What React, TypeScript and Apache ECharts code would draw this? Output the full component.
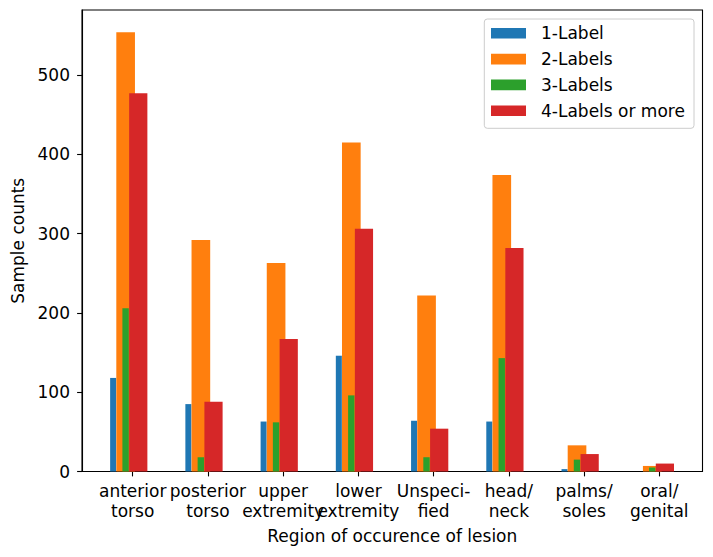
import React, { useEffect, useRef } from "react";
import * as echarts from "echarts";

const categories = [
  "anterior\ntorso",
  "posterior\ntorso",
  "upper\nextremity",
  "lower\nextremity",
  "Unspeci-\nfied",
  "head/\nneck",
  "palms/\nsoles",
  "oral/\ngenital",
];

const seriesNames = ["1-Label", "2-Labels", "3-Labels", "4-Labels or more"];
const label1 = [118, 85, 63, 146, 64, 63, 3, 0];
const label2 = [554, 292, 263, 415, 222, 374, 33, 7];
const label3 = [206, 18, 62, 96, 18, 143, 15, 5];
const label4 = [477, 88, 167, 306, 54, 282, 22, 10];
const yTicks = [0, 100, 200, 300, 400, 500];

const colors = ["#1f77b4", "#ff7f0e", "#2ca02c", "#d62728"];
// bar extents relative to category position [left, right]
const barExtents: [number, number][] = [
  [-0.3, -0.22],
  [-0.218, 0.03],
  [-0.137, -0.052],
  [-0.047, 0.195],
];

const FONT = "DejaVu Sans";
const FS = 17;

export default function App() {
  const ref = useRef<HTMLDivElement>(null);
  useEffect(() => {
    if (!ref.current) return;
    const chart = echarts.init(ref.current, undefined, { renderer: "svg" });
    const allData = [label1, label2, label3, label4];
    const series = allData.map((vals, si) => ({
      name: seriesNames[si],
      type: "custom",
      itemStyle: { color: colors[si] },
      data: vals.map((v, i) => [i, v]),
      renderItem: (params: any, api: any) => {
        const x = api.value(0);
        const y = api.value(1);
        const [l, r] = barExtents[si];
        const p1 = api.coord([x + l, y]);
        const p2 = api.coord([x + r, 0]);
        return {
          type: "rect",
          shape: { x: p1[0], y: p1[1], width: p2[0] - p1[0], height: p2[1] - p1[1] },
          style: { fill: colors[si] },
        };
      },
    }));
    chart.setOption({
      animation: false,
      textStyle: { fontFamily: FONT },
      grid: {
        left: 82,
        right: 10.5,
        top: 10,
        bottom: 85.5,
        show: true,
        borderColor: "#000",
        borderWidth: 1.1,
        backgroundColor: "transparent",
      },
      xAxis: {
        type: "value",
        min: -0.674,
        max: 7.574,
        splitLine: { show: false },
        axisLine: { show: true, onZero: false, lineStyle: { color: "#000", width: 1.1 } },
        axisTick: {
          show: true,
          length: 4.9,
          lineStyle: { color: "#000", width: 1.1 },
          customValues: categories.map((_, i) => i),
        },
        axisLabel: {
          customValues: categories.map((_, i) => i),
          formatter: (v: number) => categories[Math.round(v)] ?? "",
          fontFamily: FONT,
          fontSize: FS,
          color: "#000",
          lineHeight: 20.3,
          margin: 9,
          align: "center",
        },
        name: "Region of occurence of lesion",
        nameLocation: "middle",
        nameGap: 56,
        nameTextStyle: { fontFamily: FONT, fontSize: FS, color: "#000" },
      },
      yAxis: {
        type: "value",
        min: 0,
        max: 582,
        splitLine: { show: false },
        axisLine: { show: true, onZero: false, lineStyle: { color: "#000", width: 1.1 } },
        axisTick: {
          show: true,
          length: 4.9,
          lineStyle: { color: "#000", width: 1.1 },
          customValues: yTicks,
        },
        axisLabel: {
          customValues: yTicks,
          fontFamily: FONT,
          fontSize: FS,
          color: "#000",
          margin: 12,
        },
        name: "Sample counts",
        nameLocation: "middle",
        nameGap: 53.5,
        nameTextStyle: { fontFamily: FONT, fontSize: FS, color: "#000" },
      },
      legend: {
        data: seriesNames,
        left: 491,
        top: 24.8,
        orient: "vertical",
        padding: 0,
        icon: "rect",
        itemWidth: 35,
        itemHeight: 10.6,
        itemGap: 8.8,
        selectedMode: false,
        textStyle: {
          fontFamily: FONT,
          fontSize: FS,
          color: "#000",
          padding: [0, 0, 0, 10],
        },
      },
      graphic: [
        {
          type: "rect",
          z: 3,
          shape: { x: 484.3, y: 19, width: 209.7, height: 109.3, r: 3 },
          style: { fill: "rgba(255,255,255,0.8)", stroke: "#cccccc", lineWidth: 1 },
        },
      ],
      series,
    });
    return () => chart.dispose();
  }, []);
  return (
    <div
      ref={ref}
      style={{ position: "absolute", left: 0, top: 0, width: 713, height: 557 }}
    />
  );
}
